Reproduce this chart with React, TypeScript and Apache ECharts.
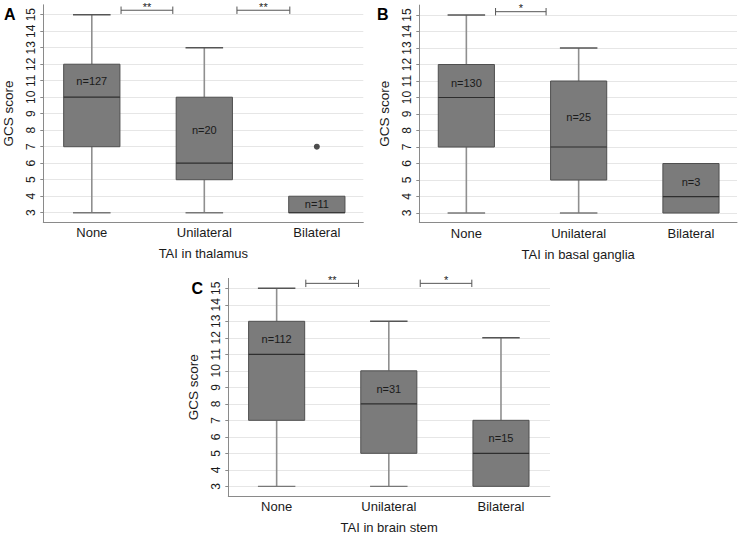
import React, { useEffect, useRef } from "react";
import * as echarts from "echarts";

const categories = ["None", "Unilateral", "Bilateral"];
const yTicks = [3, 4, 5, 6, 7, 8, 9, 10, 11, 12, 13, 14, 15];
const xTicks = [0, 1, 2];

// [position, min, Q1, median, Q3, max]
const boxesA = [
  [0, 3, 7, 10, 12, 15],
  [1, 3, 5, 6, 10, 13],
  [2, 3, 3, 3, 4, 4],
];
const boxesB = [
  [0, 3, 7, 10, 12, 15],
  [1, 3, 5, 7, 11, 13],
  [2, 3, 3, 4, 6, 6],
];
const boxesC = [
  [0, 3, 7, 11, 13, 15],
  [1, 3, 5, 8, 10, 13],
  [2, 3, 3, 5, 7, 12],
];

const countsA = ["n=127", "n=20", "n=11"];
const countsB = ["n=130", "n=25", "n=3"];
const countsC = ["n=112", "n=31", "n=15"];
const countYA = [11, 8, 3.5];
const countYB = [10.9, 8.8, 4.9];
const countYC = [11.9, 8.9, 5.9];

const outliersA = [[2, 7]];
const outliersB: number[][] = [];
const outliersC: number[][] = [];

// [x start, x end, y]
const bracketsA = [
  [0.26, 0.72, 15.27],
  [1.29, 1.76, 15.27],
];
const starsA = ["**", "**"];
const bracketsB = [[0.26, 0.71, 15.2]];
const starsB = ["*"];
const bracketsC = [
  [0.26, 0.73, 15.3],
  [1.28, 1.74, 15.3],
];
const starsC = ["**", "*"];

const xTitles = ["TAI in thalamus", "TAI in basal ganglia", "TAI in brain stem"];
const panelLetters = ["A", "B", "C"];

const FONT = "'Liberation Sans', Arial, Helvetica, sans-serif";

const panels = [
  { boxes: boxesA, counts: countsA, countY: countYA, outliers: outliersA, brackets: bracketsA, stars: starsA, grid: { left: 43.3, top: 4.8, width: 320, height: 217.5 }, xr: [-0.431, 2.413], letter: { x: 4, y: 14 } },
  { boxes: boxesB, counts: countsB, countY: countYB, outliers: outliersB, brackets: bracketsB, stars: starsB, grid: { left: 419.3, top: 5.1, width: 317.7, height: 217.5 }, xr: [-0.419, 2.41], letter: { x: 377, y: 14 } },
  { boxes: boxesC, counts: countsC, countY: countYC, outliers: outliersC, brackets: bracketsC, stars: starsC, grid: { left: 228.3, top: 278.4, width: 321.7, height: 217.5 }, xr: [-0.431, 2.437], letter: { x: 191.5, y: 288.5 } },
];

const BOX_HALF = 0.25;
const CAP_HALF = 0.167;

function App() {
  const ref = useRef<HTMLDivElement>(null);

  useEffect(() => {
    if (!ref.current) return;
    const chart = echarts.init(ref.current, null, { renderer: "svg" });

    const grids: any[] = [];
    const xAxes: any[] = [];
    const yAxes: any[] = [];
    const series: any[] = [];
    const graphics: any[] = [];

    panels.forEach((p, i) => {
      grids.push({ ...p.grid, containLabel: false });
      xAxes.push({
        gridIndex: i,
        type: "value",
        min: p.xr[0],
        max: p.xr[1],
        axisLine: { show: true, onZero: false, lineStyle: { color: "#8a8a8a", width: 1 } },
        axisTick: { show: false },
        splitLine: { show: false },
        axisLabel: {
          customValues: xTicks,
          formatter: (v: number) => categories[Math.round(v)] ?? "",
          fontSize: 13,
          color: "#1a1a1a",
          fontFamily: FONT,
          margin: 4,
        },
        name: xTitles[i],
        nameLocation: "middle",
        nameGap: 25,
        nameTextStyle: { fontSize: 13, color: "#1a1a1a", fontFamily: FONT },
      });
      yAxes.push({
        gridIndex: i,
        type: "value",
        min: 2.42,
        max: 15.6,
        axisLine: { show: true, onZero: false, lineStyle: { color: "#8a8a8a", width: 1 } },
        axisTick: { show: true, length: 3, customValues: yTicks, lineStyle: { color: "#8a8a8a" } },
        axisLabel: {
          customValues: yTicks,
          rotate: 90,
          margin: 6,
          fontSize: 12,
          color: "#1a1a1a",
          fontFamily: FONT,
        },
        splitLine: { show: true, lineStyle: { color: "#e6e6e6", width: 1 } },
        name: "GCS score",
        nameLocation: "middle",
        nameGap: 28,
        nameTextStyle: { fontSize: 13.5, color: "#1a1a1a", fontFamily: FONT },
      });

      series.push({
        type: "custom",
        xAxisIndex: i,
        yAxisIndex: i,
        data: p.boxes,
        encode: { x: 0, y: [1, 2, 3, 4, 5] },
        renderItem: (params: any, api: any) => {
          const x = api.value(0);
          const lo = api.value(1);
          const q1 = api.value(2);
          const med = api.value(3);
          const q3 = api.value(4);
          const hi = api.value(5);
          const tl = api.coord([x - BOX_HALF, q3]);
          const br = api.coord([x + BOX_HALF, q1]);
          const cx = api.coord([x, med])[0];
          const my = api.coord([x, med])[1];
          const yHi = api.coord([x, hi])[1];
          const yLo = api.coord([x, lo])[1];
          const capL = api.coord([x - CAP_HALF, hi])[0];
          const capR = api.coord([x + CAP_HALF, hi])[0];
          const children: any[] = [];
          if (hi > q3) {
            children.push({ type: "line", shape: { x1: cx, y1: yHi, x2: cx, y2: tl[1] }, style: { stroke: "#8f8f8f", lineWidth: 1.6 } });
            children.push({ type: "line", shape: { x1: capL, y1: yHi, x2: capR, y2: yHi }, style: { stroke: "#555555", lineWidth: 1.4 } });
          }
          if (lo < q1) {
            children.push({ type: "line", shape: { x1: cx, y1: yLo, x2: cx, y2: br[1] }, style: { stroke: "#8f8f8f", lineWidth: 1.6 } });
            children.push({ type: "line", shape: { x1: capL, y1: yLo, x2: capR, y2: yLo }, style: { stroke: "#777777", lineWidth: 1.4 } });
          }
          children.push({
            type: "rect",
            shape: { x: tl[0], y: tl[1], width: br[0] - tl[0], height: br[1] - tl[1] },
            style: { fill: "#7b7b7b", stroke: "#4f4f4f", lineWidth: 1 },
          });
          children.push({ type: "line", shape: { x1: tl[0], y1: my, x2: br[0], y2: my }, style: { stroke: "#2e2e2e", lineWidth: 1.2 } });
          return { type: "group", children };
        },
        z: 3,
      });

      series.push({
        type: "custom",
        xAxisIndex: i,
        yAxisIndex: i,
        data: p.countY.map((y, k) => [k, y]),
        encode: { x: 0, y: 1 },
        renderItem: (params: any, api: any) => {
          const pt = api.coord([api.value(0), api.value(1)]);
          return {
            type: "text",
            x: pt[0],
            y: pt[1],
            style: {
              text: p.counts[params.dataIndex],
              fill: "#1a1a1a",
              fontSize: 11,
              fontFamily: FONT,
              align: "center",
              verticalAlign: "middle",
            },
          };
        },
        z: 4,
      });

      if (p.outliers.length) {
        series.push({
          type: "scatter",
          xAxisIndex: i,
          yAxisIndex: i,
          data: p.outliers,
          symbol: "circle",
          symbolSize: 6,
          itemStyle: { color: "#222222" },
          z: 4,
        });
      }

      series.push({
        type: "custom",
        xAxisIndex: i,
        yAxisIndex: i,
        data: p.brackets,
        encode: { x: 0, y: 2 },
        clip: false,
        renderItem: (params: any, api: any) => {
          const a = api.coord([api.value(0), api.value(2)]);
          const b = api.coord([api.value(1), api.value(2)]);
          const y = a[1];
          const st = { stroke: "#555555", lineWidth: 1 };
          return {
            type: "group",
            children: [
              { type: "line", shape: { x1: a[0], y1: y, x2: b[0], y2: y }, style: st },
              { type: "line", shape: { x1: a[0], y1: y - 3.7, x2: a[0], y2: y + 3.7 }, style: st },
              { type: "line", shape: { x1: b[0], y1: y - 3.7, x2: b[0], y2: y + 3.7 }, style: st },
              {
                type: "text",
                x: (a[0] + b[0]) / 2,
                y: y - 3.5,
                style: {
                  text: p.stars[params.dataIndex],
                  fill: "#222222",
                  fontSize: 11,
                  fontFamily: FONT,
                  align: "center",
                  verticalAlign: "middle",
                },
              },
            ],
          };
        },
        z: 4,
      });

      graphics.push({
        type: "text",
        x: p.letter.x,
        y: p.letter.y,
        style: {
          text: panelLetters[i],
          fontSize: 16,
          fontWeight: "bold",
          fontFamily: FONT,
          fill: "#000000",
          align: "left",
          verticalAlign: "middle",
        },
      });
    });

    chart.setOption({
      animation: false,
      backgroundColor: "#ffffff",
      grid: grids,
      xAxis: xAxes,
      yAxis: yAxes,
      series,
      graphic: graphics,
    });

    return () => {
      chart.dispose();
    };
  }, []);

  return (
    <div
      ref={ref}
      style={{ position: "fixed", left: 0, top: 0, width: 741, height: 536, background: "#fff" }}
    />
  );
}

export default App;
